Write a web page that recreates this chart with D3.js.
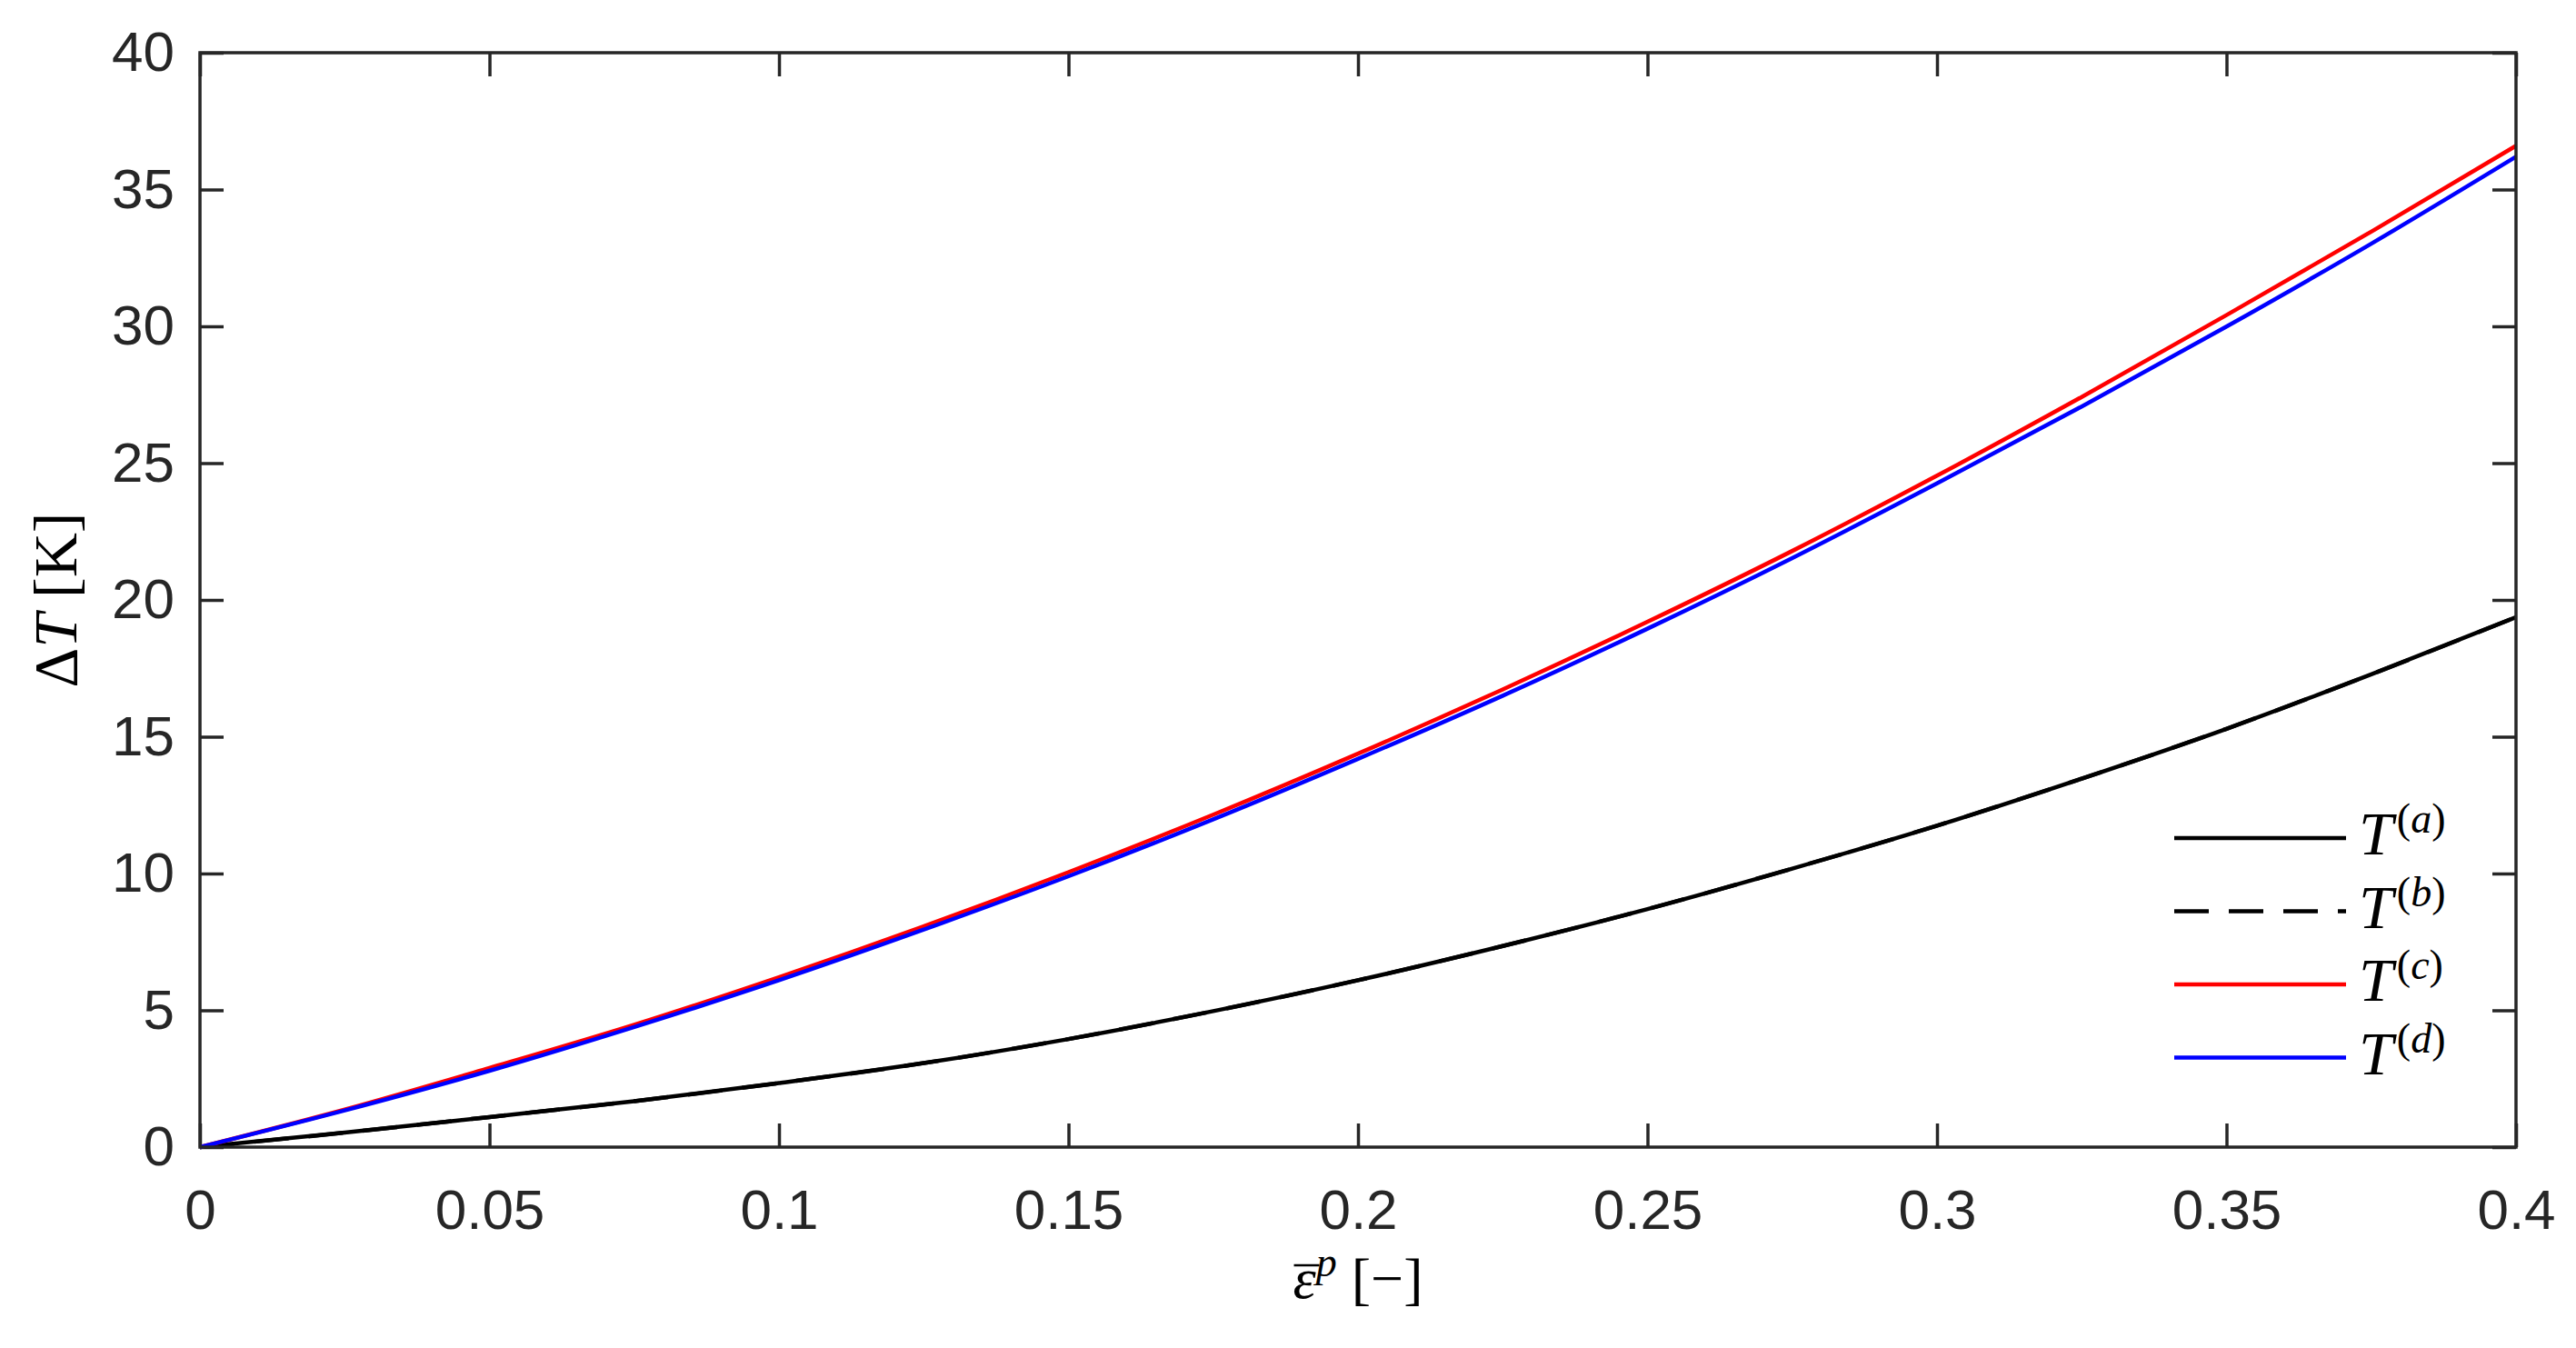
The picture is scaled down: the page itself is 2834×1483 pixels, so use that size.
<!DOCTYPE html>
<html>
<head>
<meta charset="utf-8">
<script src="https://cdn.jsdelivr.net/npm/d3@7"></script>
<style>
body { margin: 0; background: #fff; }
.chart svg { display: block; }
.tick text { font-family: "Liberation Sans", Arial, sans-serif; font-size: 62px; fill: #262626; }
.tick line { stroke: #262626; stroke-width: 3.5; }
.domain { display: none; }
.mathtext { font-family: "Liberation Serif", "Times New Roman", serif; fill: #000; }
</style>
</head>
<body>
<div class="chart"></div>
<script>
// plastic strain values (x) and temperature rise of each case
var strain = [0, 0.025, 0.05, 0.075, 0.1, 0.125, 0.15, 0.175, 0.2, 0.225, 0.25, 0.275, 0.3, 0.325, 0.35, 0.375, 0.4];
var tempA = [0, 0.53, 1.10, 1.68, 2.34, 3.07, 3.95, 4.97, 6.10, 7.35, 8.70, 10.18, 11.75, 13.47, 15.29, 17.28, 19.37];
var tempB = [0, 0.53, 1.10, 1.68, 2.34, 3.07, 3.95, 4.97, 6.10, 7.35, 8.70, 10.18, 11.75, 13.47, 15.29, 17.28, 19.37];
var tempC = [0, 1.37, 2.89, 4.47, 6.21, 8.07, 10.05, 12.15, 14.38, 16.73, 19.20, 21.79, 24.54, 27.42, 30.41, 33.46, 36.60];
var tempD = [0, 1.34, 2.79, 4.39, 6.10, 7.95, 9.90, 11.98, 14.19, 16.50, 18.95, 21.53, 24.26, 27.07, 29.99, 33.02, 36.20];

var seriesNames = ["a", "b", "c", "d"];
var seriesColors = ["#000000", "#000000", "#ff0000", "#0000ff"];
var seriesDash = [null, "38,22", null, null];

var xTicks = [0, 0.05, 0.1, 0.15, 0.2, 0.25, 0.3, 0.35, 0.4];
var yTicks = [0, 5, 10, 15, 20, 25, 30, 35, 40];

var width = 2834,
    height = 1483,
    margin = {top: 58, right: 66, bottom: 221, left: 220},
    tickLen = 26;

var plotW = width - margin.left - margin.right,
    plotH = height - margin.top - margin.bottom;

var x = d3.scaleLinear().domain([0, 0.4]).range([0, plotW]);
var y = d3.scaleLinear().domain([0, 40]).range([plotH, 0]);

function build_svg(c) {
    return c.append("svg").attr("width", width).attr("height", height);
}

function build_axes(g) {
    var fmt = d3.format("~g");
    g.append("g").attr("transform", "translate(0," + plotH + ")")
        .call(d3.axisBottom(x).tickValues(xTicks).tickFormat(fmt).tickSizeInner(-tickLen).tickSizeOuter(0).tickPadding(46));
    g.append("g")
        .call(d3.axisTop(x).tickValues(xTicks).tickFormat("").tickSizeInner(-tickLen).tickSizeOuter(0));
    g.append("g")
        .call(d3.axisLeft(y).tickValues(yTicks).tickFormat(fmt).tickSizeInner(-tickLen).tickSizeOuter(0).tickPadding(28));
    g.append("g").attr("transform", "translate(" + plotW + ",0)")
        .call(d3.axisRight(y).tickValues(yTicks).tickFormat("").tickSizeInner(-tickLen).tickSizeOuter(0));
}

function build_lines(g) {
    var all = [tempA, tempB, tempC, tempD];
    var line = d3.line()
        .x(function(d) { return x(d[0]); })
        .y(function(d) { return y(d[1]); })
        .curve(d3.curveMonotoneX);
    all.forEach(function(vals, i) {
        var pts = strain.map(function(s, j) { return [s, vals[j]]; });
        g.append("path")
            .datum(pts)
            .attr("fill", "none")
            .attr("stroke", seriesColors[i])
            .attr("stroke-width", 4.5)
            .attr("stroke-dasharray", seriesDash[i])
            .attr("d", line);
    });
}

function build_box(g) {
    // axes box drawn on top like matlab
    g.append("rect")
        .attr("width", plotW).attr("height", plotH)
        .attr("fill", "none").attr("stroke", "#262626").attr("stroke-width", 3.5);
}

function build_legend(s) {
    var lx = 2392, ly = 922, step = 80.5, len = 189;
    var leg = s.append("g").attr("class", "legend");
    seriesNames.forEach(function(n, i) {
        var row = leg.append("g").attr("transform", "translate(" + lx + "," + (ly + i * step) + ")");
        row.append("line")
            .attr("x1", 0).attr("x2", len).attr("y1", 0).attr("y2", 0)
            .attr("stroke", seriesColors[i]).attr("stroke-width", 4.5)
            .attr("stroke-dasharray", seriesDash[i]);
        var t = row.append("text").attr("class", "mathtext")
            .attr("x", len + 14).attr("y", 18).attr("font-size", 68);
        t.append("tspan").attr("font-style", "italic").text("T");
        t.append("tspan").attr("font-size", 46).attr("dy", -24).attr("dx", 4).text("(");
        t.append("tspan").attr("font-size", 46).attr("font-style", "italic").text(n);
        t.append("tspan").attr("font-size", 46).text(")");
    });
}

function build_labels(s) {
    var yl = s.append("text").attr("class", "mathtext")
        .attr("transform", "translate(84," + (margin.top + plotH / 2) + ") rotate(-90)")
        .attr("text-anchor", "middle").attr("font-size", 68);
    yl.append("tspan").text("\u0394");
    yl.append("tspan").attr("font-style", "italic").text("T");
    yl.append("tspan").text(" [K]");

    var base = 1428;
    var xl = s.append("text").attr("class", "mathtext")
        .attr("x", margin.left + plotW / 2).attr("y", base)
        .attr("text-anchor", "middle").attr("font-size", 64);
    var eps = xl.append("tspan").attr("font-style", "italic").text("\u03b5");
    xl.append("tspan").attr("font-style", "italic").attr("font-size", 46).attr("dy", -24).text("p");
    xl.append("tspan").attr("dy", 24).text(" [\u2212]");
    // bar over epsilon
    var bb = eps.node().getBBox();
    s.append("line")
        .attr("x1", bb.x + 1).attr("x2", bb.x + bb.width + 3)
        .attr("y1", base - 36).attr("y2", base - 36)
        .attr("stroke", "#000").attr("stroke-width", 2.5);
}

function main() {
    var container = d3.select(".chart");
    var svg = build_svg(container);
    svg.append("rect").attr("width", width).attr("height", height).attr("fill", "#fff");
    var g = svg.append("g").attr("transform", "translate(" + margin.left + "," + margin.top + ")");
    build_axes(g);
    build_lines(g);
    build_box(g);
    build_legend(svg);
    build_labels(svg);
}

main();
</script>
</body>
</html>
